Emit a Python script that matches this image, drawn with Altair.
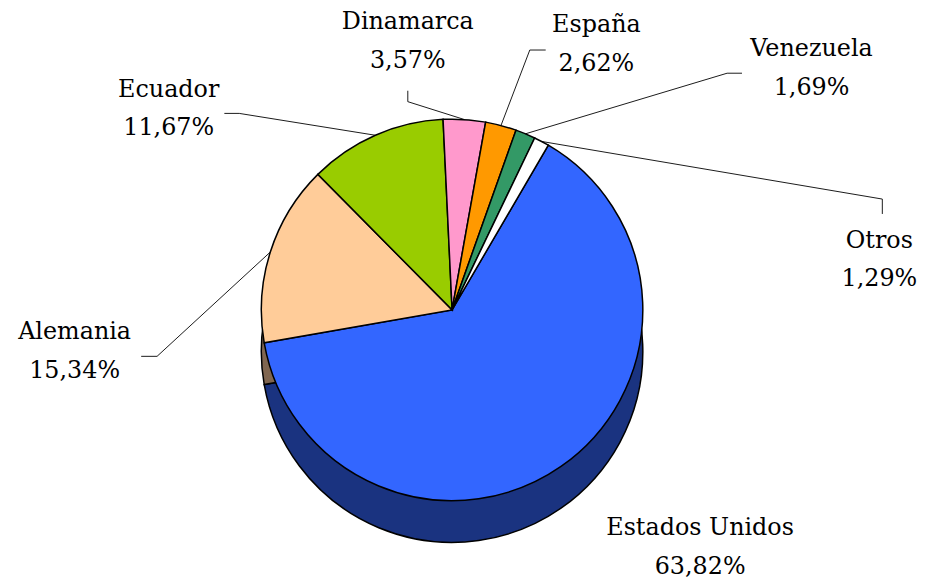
import math
import altair as alt
import pandas as pd

# ---- data -------------------------------------------------------------
countries = ["Estados Unidos", "Alemania", "Ecuador", "Dinamarca", "España", "Venezuela", "Otros"]
shares = [63.82, 15.34, 11.67, 3.57, 2.62, 1.69, 1.29]
share_labels = ["63,82%", "15,34%", "11,67%", "3,57%", "2,62%", "1,69%", "1,29%"]

# ---- styles -----------------------------------------------------------
top_colors = ["#3366FF", "#FFCC99", "#99CC00", "#FF99CC", "#FF9900", "#339966", "#FFFFFF"]
side_colors = ["#1A3380", "#806650", "#4C6600", "#804C66", "#804C00", "#1A4C33", "#808080"]
FONT = "DejaVu Serif"
FONT_SIZE = 24
W, H = 918, 572
CX, CY, R, DEPTH = 447, 302, 192, 42
START = math.radians(30.3)

# label / leader layout, offsets (px) from the slice's outer edge point
LAYOUT = {
    "Estados Unidos": dict(text=(140, 62), leader=[]),
    "Alemania": dict(text=(-197, 81), leader=[(-114, 105), (-130, 105)]),
    "Ecuador": dict(text=(-208, -46), leader=[(-137, -22), (-152, -22)]),
    "Dinamarca": dict(text=(-57, -98), leader=[(-57, -18), (-57, -29)]),
    "España": dict(text=(96, -101), leader=[(29, -76), (45, -76)]),
    "Venezuela": dict(text=(288, -85), leader=[(203, -61), (218, -61)]),
    "Otros": dict(text=(340, 100), leader=[(343, 58), (343, 73)]),
}

df = pd.DataFrame({
    "pais": countries,
    "pct": shares,
    "etiqueta": share_labels,
    "orden": list(range(len(countries))),
})

base = alt.Chart(df)
theta = alt.Theta("pct:Q", stack=True,
                  scale=alt.Scale(range=[START, START + 2 * math.pi]))
order = alt.Order("orden:Q", sort="ascending")

side = base.transform_calculate(pais_lado="datum.pais").mark_arc(
    outerRadius=R, stroke="black", strokeWidth=1.5
).encode(
    theta=theta, order=order,
    color=alt.Color("pais_lado:N", scale=alt.Scale(domain=countries, range=side_colors), legend=None),
    x=alt.value(CX), y=alt.value(CY + DEPTH),
)

top = base.mark_arc(outerRadius=R, stroke="black", strokeWidth=1.5).encode(
    theta=theta, order=order,
    color=alt.Color("pais:N", scale=alt.Scale(domain=countries, range=top_colors), legend=None),
    x=alt.value(CX), y=alt.value(CY),
)

geo = base.transform_joinaggregate(total="sum(pct)").transform_window(
    cum="sum(pct)", sort=[alt.SortField("orden")], frame=[None, 0]
).transform_calculate(
    mid=f"{START} + 2*PI*(datum.cum - datum.pct/2)/datum.total"
).transform_calculate(
    ex=f"{CX} + {R}*sin(datum.mid)",
    ey=f"{CY} - {R}*cos(datum.mid)",
)

layers = [side, top]
for name, lay in LAYOUT.items():
    sel = geo.transform_filter(alt.datum.pais == name)
    pts = [(0, 0)] + lay["leader"]
    for (ax, ay), (bx, by) in zip(pts[:-1], pts[1:]):
        layers.append(
            sel.transform_calculate(
                x1=f"datum.ex + {ax}", y1=f"datum.ey + {ay}",
                x2=f"datum.ex + {bx}", y2=f"datum.ey + {by}",
            ).mark_rule(color="black", strokeWidth=0.9).encode(
                x=alt.X("x1:Q", scale=None, axis=None),
                y=alt.Y("y1:Q", scale=None, axis=None),
                x2="x2:Q", y2="y2:Q",
            )
        )
    tx, ty = lay["text"]
    layers.append(
        sel.transform_calculate(
            tx=f"datum.ex + {tx}", ty=f"datum.ey + {ty}",
            txt="datum.pais + '\\n' + datum.etiqueta",
        ).mark_text(
            font=FONT, fontSize=FONT_SIZE, lineHeight=39, lineBreak="\n",
            align="center", baseline="middle", color="black",
        ).encode(
            x=alt.X("tx:Q", scale=None, axis=None),
            y=alt.Y("ty:Q", scale=None, axis=None),
            text="txt:N",
        )
    )

chart = alt.layer(*layers).resolve_scale(color="independent").properties(
    width=W, height=H, padding=0,
    autosize=alt.AutoSizeParams(type="none"),
).configure_view(stroke=None)

chart.save("out.html", embed_options={"renderer": "svg", "actions": False})
